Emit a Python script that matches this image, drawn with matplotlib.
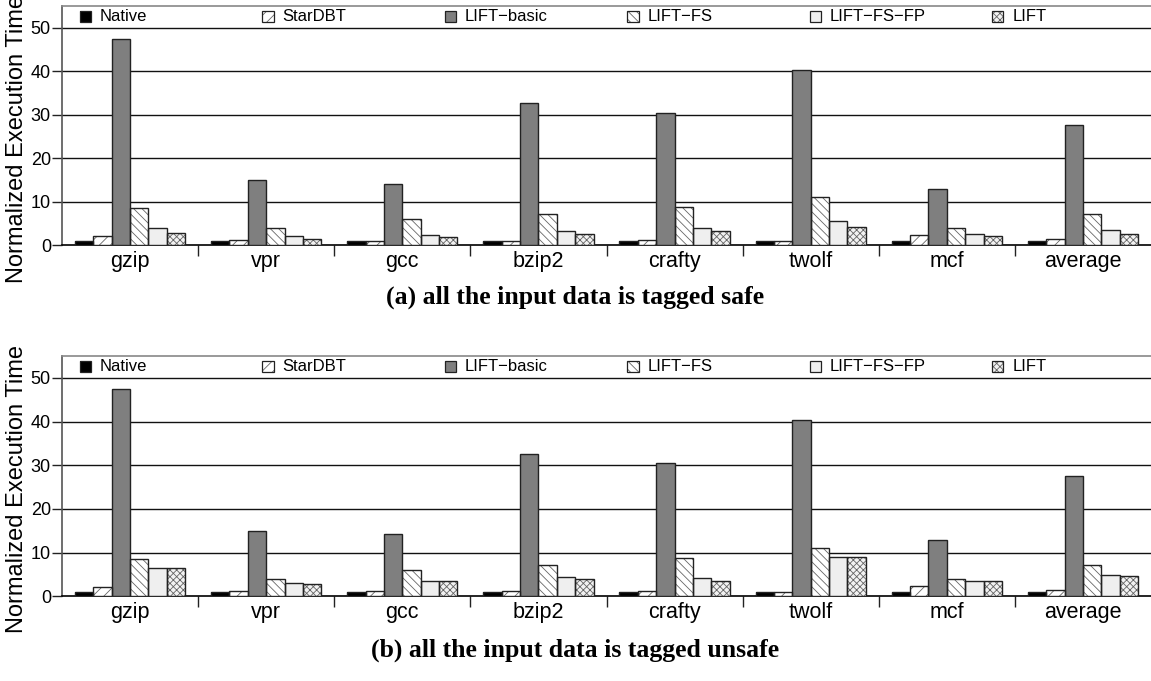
"""LIFT overhead: normalized execution time, safe vs unsafe input tagging."""

import matplotlib
matplotlib.use("Agg")
import matplotlib.patches as mpatches
import matplotlib.pyplot as plt
import numpy as np

BENCHMARKS = ["gzip", "vpr", "gcc", "bzip2", "crafty", "twolf", "mcf", "average"]
SERIES = ["Native", "StarDBT", "LIFT\u2212basic", "LIFT\u2212FS", "LIFT\u2212FS\u2212FP", "LIFT"]

native = [1.0, 1.0, 1.0, 1.0, 1.0, 1.0, 1.0, 1.0]
stardbt = [2.1, 1.3, 1.1, 1.1, 1.2, 1.0, 2.4, 1.45]
lift_basic = [47.5, 15.0, 14.2, 32.6, 30.4, 40.4, 12.9, 27.6]
lift_fs = [8.5, 3.9, 6.0, 7.1, 8.7, 11.0, 3.9, 7.1]

# (a) input tagged safe
lift_fs_fp_safe = [4.0, 2.1, 2.3, 3.3, 4.0, 5.6, 2.5, 3.5]
lift_safe = [2.8, 1.45, 2.0, 2.5, 3.4, 4.1, 2.1, 2.6]

# (b) input tagged unsafe
lift_fs_fp_unsafe = [6.55, 3.05, 3.6, 4.35, 4.1, 8.9, 3.5, 4.9]
lift_unsafe = [6.5, 2.75, 3.4, 4.0, 3.4, 8.9, 3.5, 4.6]

CAPTIONS = [
    "(a) all the input data is tagged safe",
    "(b) all the input data is tagged unsafe",
]

# fill colour, hatch pattern
STYLES = [
    ("black", None),
    ("white", "///"),
    ("#7f7f7f", None),
    ("white", "\\\\\\\\"),
    ("#efefef", None),
    ("#f2f2f2", "xxxxx"),
]
HATCH_EDGE = "#666666"
EDGE = "#222222"

plt.rcParams["font.family"] = ["Liberation Sans", "DejaVu Sans"]
plt.rcParams["hatch.linewidth"] = 0.6


def draw_legend(ax):
    # gnuplot-like key: evenly spaced entries in the top strip
    x0, step = 0.0165, 0.1675
    w, h = 0.0105, 0.046
    yc = 0.957
    for i, (name, (fc, hatch)) in enumerate(zip(SERIES, STYLES)):
        xl = x0 + i * step
        ax.add_patch(mpatches.Rectangle(
            (xl, yc - h / 2), w, h, transform=ax.transAxes,
            facecolor=fc, hatch=hatch, edgecolor=HATCH_EDGE, linewidth=0, zorder=4))
        ax.add_patch(mpatches.Rectangle(
            (xl, yc - h / 2), w, h, transform=ax.transAxes,
            fill=False, edgecolor=EDGE, linewidth=0.9, zorder=5))
        ax.text(xl + 0.0185, yc, name, transform=ax.transAxes,
                ha="left", va="center", fontsize=12, zorder=5)


def draw_panel(ax, columns):
    n = len(columns)
    width = 0.135
    x = np.arange(len(BENCHMARKS)) + 0.5
    for i, (vals, (fc, hatch)) in enumerate(zip(columns, STYLES)):
        offs = (i - (n - 1) / 2) * width
        # hatch in a lighter grey, outline drawn on top
        ax.bar(x + offs, vals, width, color=fc, hatch=hatch,
               edgecolor=HATCH_EDGE, linewidth=0, zorder=3)
        ax.bar(x + offs, vals, width, fill=False,
               edgecolor=EDGE, linewidth=1.0, zorder=4)

    ax.set_xlim(0, len(BENCHMARKS))
    ax.set_ylim(0, 55)
    ax.set_yticks([0, 10, 20, 30, 40, 50])
    for y in [10, 20, 30, 40, 50]:
        ax.axhline(y, color="#111111", linewidth=1.0, zorder=1)

    ax.set_xticks(x)
    ax.set_xticklabels(BENCHMARKS, fontsize=15.5)
    ax.tick_params(axis="x", length=0, pad=4)
    ax.set_xticks(np.arange(1, len(BENCHMARKS)), minor=True)
    ax.tick_params(axis="x", which="minor", length=8, width=1.0, direction="out", color=EDGE)
    ax.tick_params(axis="y", length=7, width=1.0, labelsize=13, pad=1, color=EDGE)

    ax.spines["right"].set_visible(False)
    ax.spines["top"].set_color("#888888")
    ax.spines["left"].set_color("#555555")
    ax.spines["bottom"].set_color("black")
    for s in ax.spines.values():
        s.set_linewidth(1.2)

    ax.set_ylabel("Normalized Execution Time", fontsize=17)
    ax.yaxis.set_label_coords(-0.031, 0.445)

    draw_legend(ax)


fig = plt.figure(figsize=(11.51, 6.81), dpi=100)
left = 62 / 1151
width = 1 - left
ax_a = fig.add_axes([left, 1 - 245.3 / 681, width, 239.3 / 681])
ax_b = fig.add_axes([left, 1 - 596.3 / 681, width, 240.3 / 681])

draw_panel(ax_a, [native, stardbt, lift_basic, lift_fs, lift_fs_fp_safe, lift_safe])
draw_panel(ax_b, [native, stardbt, lift_basic, lift_fs, lift_fs_fp_unsafe, lift_unsafe])

for ypos, cap in zip([1 - 297 / 681, 1 - 650 / 681], CAPTIONS):
    fig.text(
        0.5,
        ypos,
        cap,
        ha="center",
        va="center",
        fontsize=18.5,
        fontweight="bold",
        family=["Liberation Serif", "DejaVu Serif"],
    )

fig.savefig("out.png", dpi=100, facecolor="white")
plt.close(fig)
